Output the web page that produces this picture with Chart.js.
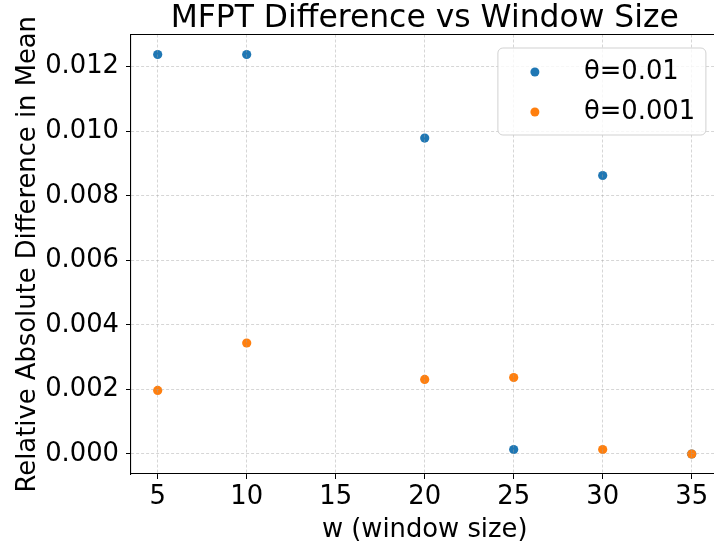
<!DOCTYPE html>
<html lang="en">
<head>
    <meta charset="UTF-8">
    <title>MFPT Difference vs Window Size</title>
    <script src="https://cdn.jsdelivr.net/npm/chart.js"></script>
    <style>
        html, body { margin: 0; padding: 0; overflow: hidden; background: #fff; }
        .wrap { width: 723px; height: 546px; }
    </style>
</head>
<body>
    <div class="wrap">
        <canvas id="myChart" width="723" height="546"></canvas>
    </div>

    <script>
        // window sizes and relative abs. difference for each threshold
        const windowSizes = [5, 10, 20, 25, 30, 35];
        const theta01 = [0.01238, 0.01238, 0.00979, 0.00014, 0.00863, 0.0];
        const theta001 = [0.00197, 0.00344, 0.00231, 0.00237, 0.00014, 0.0];

        const seriesLabels = ['θ=0.01', 'θ=0.001'];
        const xTicks = [5, 10, 15, 20, 25, 30, 35];
        const yTicks = [0, 0.002, 0.004, 0.006, 0.008, 0.010, 0.012];

        const chartTitle = 'MFPT Difference vs Window Size';
        const FONT = 'DejaVu Sans';
        const small = { family: FONT, size: 25.8, lineHeight: 1.2 };

        function toPoints(xs, ys) {
            return xs.map((x, i) => ({ x: x, y: ys[i] }));
        }

        // title centred over the axes, top/right spines, legend box
        const frameAndLegend = {
            id: 'frameAndLegend',
            afterDraw(chart) {
                const ctx = chart.ctx;
                const a = chart.chartArea;
                ctx.save();

                ctx.font = '31.4px "' + FONT + '"';
                ctx.fillStyle = '#000';
                ctx.textAlign = 'center';
                ctx.textBaseline = 'alphabetic';
                ctx.fillText(chartTitle, (a.left + a.right) / 2, 27.3);

                ctx.strokeStyle = '#000';
                ctx.lineWidth = 1.1;
                ctx.beginPath();
                ctx.moveTo(a.left, a.top);
                ctx.lineTo(a.right, a.top);
                ctx.lineTo(a.right, a.bottom);
                ctx.stroke();

                const w = 208, h = 87;
                const lx = a.right - 12.5 - w;
                const ly = a.top + 13.5;
                ctx.beginPath();
                ctx.roundRect(lx, ly, w, h, 5);
                ctx.fillStyle = 'rgba(255,255,255,0.8)';
                ctx.fill();
                ctx.strokeStyle = 'rgba(204,204,204,0.9)';
                ctx.lineWidth = 1;
                ctx.stroke();

                ctx.font = '25.8px "' + FONT + '"';
                ctx.textBaseline = 'middle';
                ctx.textAlign = 'left';
                chart.data.datasets.forEach((ds, i) => {
                    const cy = ly + 24 + i * 40;
                    ctx.beginPath();
                    ctx.arc(lx + 37, cy, 4.5, 0, Math.PI * 2);
                    ctx.fillStyle = ds.backgroundColor;
                    ctx.fill();
                    ctx.fillStyle = '#000';
                    ctx.fillText(ds.label, lx + 86, cy);
                });
                ctx.restore();
            }
        };

        const gridOpts = {
            color: 'rgba(160,160,160,0.55)',
            lineWidth: 0.8,
            drawTicks: true,
            tickLength: 5,
            tickColor: '#000',
            tickWidth: 1,
            z: 1
        };
        const borderOpts = { display: true, color: '#000', width: 1.1, dash: [3, 2], z: 2 };

        const ctx = document.getElementById('myChart').getContext('2d');
        const myChart = new Chart(ctx, {
            type: 'scatter',
            data: {
                datasets: [{
                    label: seriesLabels[0],
                    data: toPoints(windowSizes, theta01),
                    backgroundColor: '#1f77b4',
                    borderColor: '#1f77b4',
                    borderWidth: 0,
                    pointRadius: 4.6,
                    order: 1
                }, {
                    label: seriesLabels[1],
                    data: toPoints(windowSizes, theta001),
                    backgroundColor: '#ff7f0e',
                    borderColor: '#ff7f0e',
                    borderWidth: 0,
                    pointRadius: 4.6,
                    order: 0
                }]
            },
            options: {
                responsive: false,
                animation: false,
                devicePixelRatio: 1,
                layout: { padding: { left: 0, right: 1.5, top: 34.5, bottom: 0 } },
                plugins: {
                    legend: { display: false },
                    tooltip: { enabled: false },
                    title: { display: false }
                },
                scales: {
                    x: {
                        type: 'linear',
                        min: 3.5,
                        max: 36.5,
                        afterBuildTicks: s => { s.ticks = xTicks.map(v => ({ value: v })); },
                        afterFit: s => { s.height = 72; },
                        ticks: {
                            color: '#000',
                            font: small,
                            padding: 3,
                            maxRotation: 0,
                            callback: v => String(v)
                        },
                        grid: gridOpts,
                        border: borderOpts,
                        title: {
                            display: true,
                            text: 'w (window size)',
                            color: '#000',
                            font: small,
                            padding: { top: 0, bottom: 0.5 }
                        }
                    },
                    y: {
                        type: 'linear',
                        min: -0.00062,
                        max: 0.01300,
                        afterBuildTicks: s => { s.ticks = yTicks.map(v => ({ value: v })); },
                        afterFit: s => { s.width = 131; },
                        ticks: {
                            color: '#000',
                            font: small,
                            padding: 7,
                            callback: v => v.toFixed(3)
                        },
                        grid: gridOpts,
                        border: borderOpts,
                        title: {
                            display: true,
                            text: 'Relative Absolute Difference in Mean',
                            color: '#000',
                            font: small,
                            padding: { top: 12.5, bottom: 0 }
                        }
                    }
                }
            },
            plugins: [frameAndLegend]
        });
    </script>
</body>
</html>
